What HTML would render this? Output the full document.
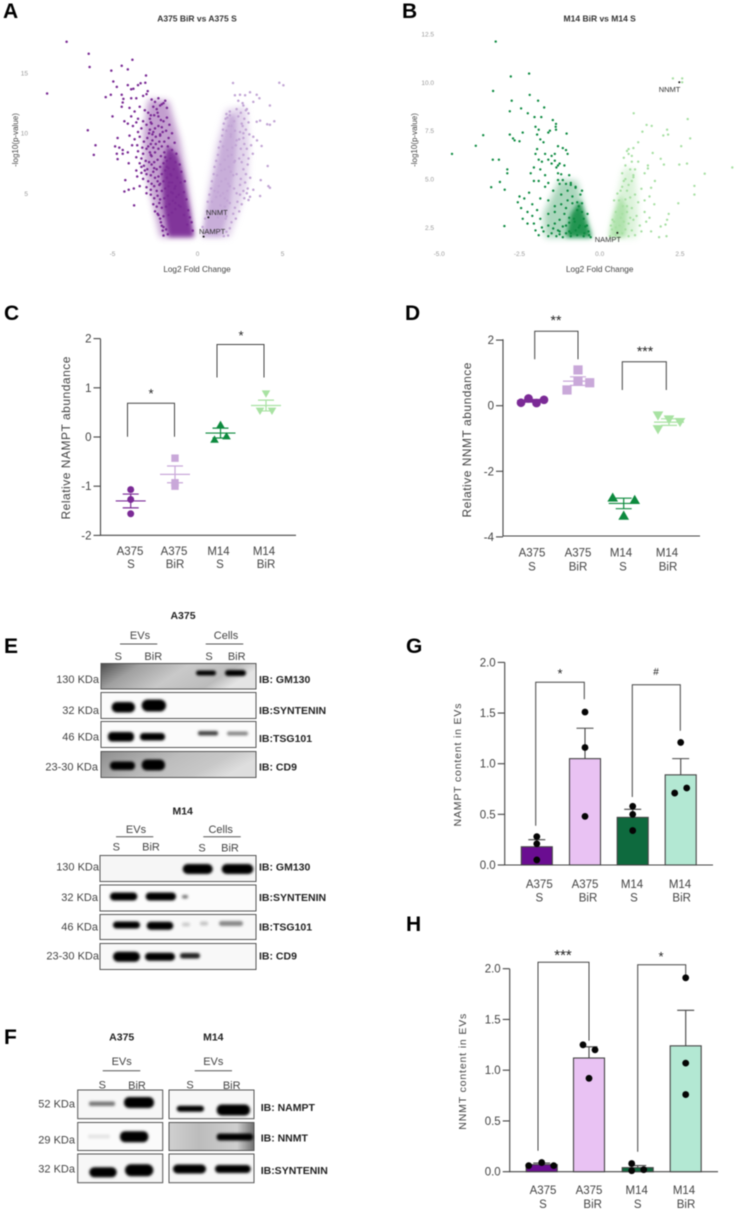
<!DOCTYPE html>
<html lang="en">
<head>
<meta charset="utf-8">
<title>Volcano plots, abundance charts and immunoblots</title>
<style>
html,body{margin:0;padding:0;background:#fff;width:736px;height:1212px;overflow:hidden}
svg{display:block;filter:blur(0.45px)}
text{font-family:"Liberation Sans",sans-serif}
</style>
</head>
<body>
<svg id="figure" xmlns="http://www.w3.org/2000/svg" width="736" height="1212" viewBox="0 0 736 1212">
<defs>
<filter id="band" x="-30%" y="-100%" width="160%" height="300%"><feGaussianBlur stdDeviation="1.3"/></filter>
<filter id="soft" x="-30%" y="-30%" width="160%" height="160%"><feGaussianBlur stdDeviation="2"/></filter>
<filter id="halo" x="-40%" y="-40%" width="180%" height="180%"><feGaussianBlur stdDeviation="3.5"/></filter>
<linearGradient id="bg-gm130" x1="0" y1="0" x2="1" y2="0.25"><stop offset="0" stop-color="#4a4a4a"/><stop offset="0.25" stop-color="#a0a0a0"/><stop offset="0.55" stop-color="#c9c9c9"/><stop offset="0.85" stop-color="#bcbcbc"/><stop offset="1" stop-color="#e4e4e4"/></linearGradient>
<linearGradient id="bg-cd9" x1="0" y1="0" x2="1" y2="0.3"><stop offset="0" stop-color="#8e8e8e"/><stop offset="0.5" stop-color="#bdbdbd"/><stop offset="0.8" stop-color="#c8c8c8"/><stop offset="1" stop-color="#dedede"/></linearGradient>
<linearGradient id="bg-nnmt" x1="0" y1="0" x2="1" y2="0"><stop offset="0" stop-color="#d0d0d0"/><stop offset="0.35" stop-color="#bcbcbc"/><stop offset="0.8" stop-color="#cfcfcf"/><stop offset="1" stop-color="#707070"/></linearGradient>
</defs>

<g id="panel-letters" font-weight="700" font-size="21" fill="#000">
<text x="3" y="18">A</text>
<text x="402" y="18">B</text>
<text x="4" y="320">C</text>
<text x="405" y="320">D</text>
<text x="4" y="653">E</text>
<text x="4" y="1044">F</text>
<text x="406" y="653">G</text>
<text x="406" y="931">H</text>
</g>

<g id="blot-e-a375">
<g fill="#444" font-size="11">
<text x="183" y="619" font-size="10.5" font-weight="700" fill="#222" text-anchor="middle">A375</text>
<text x="140" y="639" text-anchor="middle">EVs</text>
<text x="226" y="639" text-anchor="middle">Cells</text>
<text x="118.3" y="660" text-anchor="middle">S</text>
<text x="153.3" y="660" text-anchor="middle">BiR</text>
<text x="209" y="660" text-anchor="middle">S</text>
<text x="236.7" y="660" text-anchor="middle">BiR</text>
<text x="99" y="683" text-anchor="end">130 KDa</text>
<text x="99" y="714" text-anchor="end">32 KDa</text>
<text x="99" y="740.7" text-anchor="end">46 KDa</text>
<text x="98" y="770.7" text-anchor="end">23-30 KDa</text>
</g>
<path d="M120 644H157.3M205.7 644H243.3" stroke="#555" stroke-width="1"/>
<g font-size="10.5" font-weight="700" fill="#222">
<text x="259" y="683">IB: GM130</text>
<text x="259" y="714">IB:SYNTENIN</text>
<text x="259" y="742">IB:TSG101</text>
<text x="259" y="770.7">IB: CD9</text>
</g>
<rect x="101" y="663.5" width="155" height="25.5" fill="url(#bg-gm130)" stroke="#555"/>
<rect x="101" y="692.5" width="155" height="26" fill="#fbfbfb" stroke="#555"/>
<rect x="101" y="721.5" width="155" height="26" fill="#fbfbfb" stroke="#555"/>
<rect x="101" y="751.5" width="155" height="26" fill="url(#bg-cd9)" stroke="#555"/>
<g filter="url(#band)" fill="#050505">
<rect x="196" y="670.5" width="20" height="5" rx="2.5"/><rect x="225" y="670" width="21" height="6" rx="3"/>
<rect x="111.7" y="702" width="23.3" height="10.5" rx="5"/><rect x="141.7" y="699.5" width="24.3" height="12" rx="6"/>
<rect x="108" y="732" width="26" height="9.5" rx="4"/><rect x="140" y="733" width="25" height="7.5" rx="3.5"/>
<rect x="198" y="731" width="20" height="4.5" rx="2" fill="#444"/><rect x="227" y="731.5" width="21" height="4" rx="2" fill="#888"/>
<rect x="110" y="761.5" width="25" height="8.5" rx="4"/><rect x="141.7" y="759.5" width="23.3" height="11" rx="5"/>
</g>
</g>

<g id="blot-e-m14">
<g fill="#444" font-size="11">
<text x="182.7" y="814.7" font-size="10.5" font-weight="700" fill="#222" text-anchor="middle">M14</text>
<text x="136" y="833" text-anchor="middle">EVs</text>
<text x="220.7" y="833" text-anchor="middle">Cells</text>
<text x="116.3" y="850.7" text-anchor="middle">S</text>
<text x="151" y="850.7" text-anchor="middle">BiR</text>
<text x="202" y="851.7" text-anchor="middle">S</text>
<text x="230" y="851.7" text-anchor="middle">BiR</text>
<text x="99" y="870.7" text-anchor="end">130 KDa</text>
<text x="98" y="901" text-anchor="end">32 KDa</text>
<text x="98" y="930.7" text-anchor="end">46 KDa</text>
<text x="99" y="959.3" text-anchor="end">23-30 KDa</text>
</g>
<path d="M116 836.7H153.3M203.3 836.7H240.7" stroke="#555" stroke-width="1"/>
<g font-size="10.5" font-weight="700" fill="#222">
<text x="259" y="870.7">IB: GM130</text>
<text x="259" y="901">IB:SYNTENIN</text>
<text x="259" y="930.7">IB:TSG101</text>
<text x="259" y="959.3">IB: CD9</text>
</g>
<rect x="100" y="855.5" width="156" height="26" fill="#f6f6f6" stroke="#555"/>
<rect x="100" y="885" width="156" height="26" fill="#fcfcfc" stroke="#555"/>
<rect x="100" y="914.5" width="156" height="25" fill="#f8f8f8" stroke="#555"/>
<rect x="100" y="943.5" width="156" height="26" fill="#f8f8f8" stroke="#555"/>
<g filter="url(#band)" fill="#050505">
<rect x="182.7" y="864" width="30" height="10" rx="5"/><rect x="221.7" y="864" width="31.6" height="10" rx="5"/>
<rect x="110" y="892.5" width="27.3" height="8" rx="4"/><rect x="145.7" y="892.5" width="30.3" height="8" rx="4"/><rect x="182" y="895" width="6" height="3.5" rx="1.7" fill="#777"/>
<rect x="113" y="921.5" width="27" height="7" rx="3.5"/><rect x="146.7" y="921.7" width="26.6" height="8" rx="4"/>
<rect x="182" y="922.5" width="8" height="4" rx="2" fill="#ccc"/><rect x="200" y="921.5" width="8" height="4" rx="2" fill="#c4c4c4"/><rect x="219" y="921" width="24" height="5" rx="2.5" fill="#888"/>
<rect x="113" y="951.7" width="27" height="10" rx="5"/><rect x="145" y="952.7" width="30" height="8" rx="4"/><rect x="180" y="953" width="20" height="5.5" rx="2.7" fill="#222"/>
</g>
</g>

<g id="blot-f">
<g fill="#444" font-size="11">
<text x="121.7" y="1040.7" font-size="10.5" font-weight="700" fill="#222" text-anchor="middle">A375</text>
<text x="213.3" y="1040.7" font-size="10.5" font-weight="700" fill="#222" text-anchor="middle">M14</text>
<text x="121.7" y="1065" text-anchor="middle">EVs</text>
<text x="213.3" y="1065" text-anchor="middle">EVs</text>
<text x="102.3" y="1088.3" text-anchor="middle">S</text>
<text x="137" y="1089" text-anchor="middle">BiR</text>
<text x="190" y="1088.3" text-anchor="middle">S</text>
<text x="231.7" y="1089" text-anchor="middle">BiR</text>
<text x="75" y="1107.7" text-anchor="end">52 KDa</text>
<text x="75" y="1143.3" text-anchor="end">29 KDa</text>
<text x="75" y="1172.3" text-anchor="end">32 KDa</text>
</g>
<path d="M102.7 1070.7H140.3M194.7 1070.7H232" stroke="#555" stroke-width="1"/>
<g font-size="10.5" font-weight="700" fill="#222">
<text x="260.7" y="1111">IB: NAMPT</text>
<text x="260.7" y="1141.7">IB: NNMT</text>
<text x="260.7" y="1174">IB:SYNTENIN</text>
</g>
<g fill="#f7f7f7" stroke="#555">
<rect x="77.7" y="1090" width="85" height="28.7"/>
<rect x="77.7" y="1122.5" width="85" height="28" fill="#fbfbfb"/>
<rect x="77.7" y="1154" width="85" height="28.7"/>
<rect x="169" y="1090" width="85" height="28.7"/>
<rect x="169" y="1122.5" width="85" height="28" fill="url(#bg-nnmt)"/>
<rect x="169" y="1154" width="85" height="28.7"/>
</g>
<g filter="url(#band)" fill="#050505">
<rect x="89" y="1101.5" width="26" height="4.5" rx="2" fill="#777"/><rect x="124" y="1097" width="30" height="11" rx="5"/>
<rect x="176.7" y="1105.7" width="27.3" height="6" rx="3"/><rect x="216.7" y="1104.5" width="33.3" height="11" rx="5"/>
<rect x="88" y="1134.5" width="22" height="4" rx="2" fill="#e4e4e4"/><rect x="120" y="1131.2" width="28.3" height="11" rx="5"/>
<rect x="216.7" y="1133.5" width="36.3" height="7" rx="3"/>
<rect x="89.3" y="1167.3" width="27.4" height="10" rx="5"/><rect x="125" y="1164.3" width="28.3" height="12" rx="6"/>
<rect x="173" y="1164.5" width="33" height="9" rx="4.5"/><rect x="215" y="1165" width="35.7" height="8" rx="4"/>
</g>
</g>

<g id="plots"></g>
</svg>

<script>
// ---------- Panel A data (log2 fold change / -log10 p) ----------
const aXTicks = [-5, 0, 5];
const aYTicks = [5, 10, 15];
const aLeftHaloX = [-0.2,-2.2,-2.6,-3.1,-3.2,-2.9,-1.7,-1.05,-0.65,-0.35];
const aLeftHaloY = [1.35,1.35,4.0,7.0,10.0,12.8,12.7,9.5,6.5,3.5];
const aLeftCoreX = [-0.22,-1.7,-2.0,-2.1,-1.75,-1.2,-0.85,-0.45];
const aLeftCoreY = [1.4,1.4,3.8,7.0,9.0,8.2,6.5,3.6];
const aRightHaloX = [0.25,1.9,2.5,2.95,3.05,2.85,1.7,1.1,0.65,0.4];
const aRightHaloY = [1.35,1.35,3.8,6.0,9.0,12.2,12.0,9.0,5.5,3.0];
const aRightCoreX = [0.3,1.4,1.9,2.2,2.3,2.25,1.85,1.35,0.85,0.5];
const aRightCoreY = [1.4,1.4,4.0,7.0,9.5,11.5,11.5,8.8,5.5,3.2];
const aLeftX = [
-7.7,-6.4,-6.35,-8.85,-3.83,-4.46,-5.07,-4.1,-3.03,-4.95,
-4.75,-4.1,-3.5,-3.35,-3.07,-3.77,-3.9,-2.93,-3.0,-5.1,
-5.4,-4.46,-4.36,-4.4,-4.46,-3.9,-3.6,-3.2,-5.0,-6.45,
-6.0,-6.1,-4.7,-4.85,-4.6,-4.75,-4.7,-4.4,-4.1,-4.05,
-4.25,-4.3,-4.05,-3.75,-3.73,-3.4,-3.55,-3.1,-3.3,-3.0,
-2.7,-2.5,-2.3,-2.1,-1.9,-2.6,-2.4,-2.2,-2.0,-1.8,
-4.0,-3.7,-3.4,-3.1,-2.9,-2.75,-3.9,-3.5,-3.2,-4.3,
-4.1,-3.8,-3.6,-3.3,-3.0,-2.8,-2.7,-2.6,-2.85,-3.5,
-4.0,-3.7,-3.4,-3.15,-2.95,-2.75,-3.55,-3.25,-3.85,-2.65,
-4.4,-3.5,-3.2,-3.0,-2.8,-2.7,-3.6,-3.3,-3.05,-2.85,
-3.4,-3.15,-2.95,-2.7,-2.55,-3.6,-3.3,-3.0,-2.75,-2.6,
-3.2,-2.9,-2.7,-2.5,-2.35,-3.0,-2.75,-2.55,-2.4,-2.25,
-2.75,-2.55,-2.35,-2.2,-2.6,-2.4,-2.25,-2.1,-2.5,-2.3,
-2.2,-2.15,-2.0,-2.35,-2.0,-2.0,-1.75,-1.85,-2.05,-2.1,
-2.3,-2.15,-2.0,-1.8,-2.1,-1.85,-1.65,-1.5,-1.7,-1.35,
-2.2,-1.95,-1.75,-1.5,-1.25,-1.9,-1.6,-1.3,-1.05,-1.4,
-1.8,-1.55,-1.2,-0.95,-1.65,-1.3,-1.0,-0.75,-1.45,-1.1,
-0.8,-1.3,-1.0,-0.65,-0.55,-0.8,-0.45,-0.6,-0.35,-0.28,
-2.8,-2.55,-2.35,-2.75,-2.5,-2.3,-2.65,-2.45,-2.2,-2.05,
-2.9,-2.6,-2.45,-2.25,-2.75,-2.5,-2.3,-2.1,-2.55,-2.35,
-2.15,-1.95,-2.4,-2.2,-2.0,-1.8,-2.3,-2.1,-1.9,-1.7,
-2.2,-2.0,-1.8,-1.6,-2.1,-1.9,-1.7,-1.5,-1.95,-1.75,
-1.55,-1.35,-1.85,-1.65,-1.45,-1.25,-1.7,-1.5,-1.3,-1.1];
const aLeftY = [
17.6,16.6,15.5,13.3,16.1,15.6,15.2,15.3,14.8,14.3,
13.85,14.0,14.0,14.15,14.2,13.7,13.65,13.5,13.25,13.2,
13.0,13.2,12.85,12.55,12.2,12.9,12.9,13.1,11.4,10.25,
9.0,8.2,9.6,8.9,8.8,8.3,7.85,8.3,8.4,7.5,
6.1,5.15,5.3,5.4,4.0,5.6,6.4,6.9,7.2,5.0,
12.8,12.6,12.9,12.4,12.7,12.2,12.0,12.3,12.5,12.1,
12.1,11.8,12.2,11.9,11.7,11.5,11.4,11.2,11.0,11.0,
10.8,10.6,10.9,10.4,10.7,10.3,10.8,10.1,10.0,10.1,
9.8,9.5,9.7,9.3,9.6,9.1,9.0,8.8,9.0,9.4,
8.6,8.5,8.3,8.7,8.4,8.1,8.0,7.9,7.7,7.6,
7.5,7.3,7.0,7.4,7.1,6.9,6.7,6.6,6.5,6.8,
6.2,6.0,5.8,6.3,6.0,5.5,5.3,5.6,5.2,5.7,
4.9,4.6,4.8,4.5,4.1,3.9,4.2,3.8,3.5,3.2,
2.9,2.6,3.1,3.3,2.2,1.5,1.6,2.0,1.9,2.3,
11.4,11.1,11.0,11.3,10.5,10.2,10.7,10.0,9.6,9.2,
9.8,9.3,8.9,8.6,8.3,8.0,7.9,7.6,7.4,7.0,
7.2,6.5,6.3,6.8,5.9,5.6,5.9,6.0,5.0,4.9,
5.1,4.2,3.9,4.5,3.6,3.2,3.0,2.4,2.6,1.9,
11.2,11.5,11.7,10.9,10.4,10.6,9.9,9.7,9.9,10.1,
8.9,8.8,9.1,9.3,8.2,8.4,8.7,8.9,7.6,7.8,
8.1,8.4,7.0,7.2,7.5,7.7,6.4,6.6,6.9,7.1,
5.8,6.0,6.3,6.6,5.2,5.4,5.6,5.9,4.6,4.8,
5.1,5.4,3.9,4.1,4.4,4.7,3.2,3.4,3.7,4.0];
const aRightX = [
2.09,4.81,5.05,3.09,2.5,2.2,2.8,3.48,3.64,3.28,
4.26,2.7,3.0,4.26,3.68,4.52,4.1,3.48,3.28,3.77,
3.5,4.13,3.72,4.17,4.26,3.68,3.09,3.0,3.28,2.9,
2.4,2.65,2.9,2.55,2.3,1.9,2.75,3.0,2.6,1.75,
2.85,3.05,2.7,2.5,3.15,2.9,2.75,3.25,3.0,2.7,
2.95,2.7,2.6,2.85,3.1,2.8,2.55,2.95,2.7,2.5,
2.75,2.5,2.3,2.6,2.35,2.2,2.45,2.1,2.25,2.0,
1.9,1.7,1.8,1.65,1.55,1.45,1.6,1.75,1.35,1.2,
0.3,0.45,0.55,0.6,0.7,0.8,0.85,0.95,1.0,1.1,
1.2,1.25,1.35,1.45,1.5,1.55,1.65,1.7,1.85,1.95,
2.05,2.2,1.8,1.6,2.1,1.9,2.3,2.0,1.4,1.75,
1.9,2.15,2.4,2.65,2.85,1.7,1.95,2.2,2.45,2.7,
1.5,1.75,2.0,2.25,2.55,1.35,1.6,1.85,2.15,2.45,
1.15,1.4,1.65,1.95,2.3,1.0,1.25,1.5,1.8,2.15,
0.85,1.1,1.35,1.6,1.9,0.7,0.95,1.2,1.45,1.7];
const aRightY = [
14.17,14.2,13.98,13.4,13.2,13.15,13.15,13.2,12.9,12.6,
12.3,12.3,11.65,10.7,11.05,11.0,10.75,10.96,9.7,8.94,
9.4,7.27,6.1,5.6,5.47,4.78,4.72,4.45,5.3,5.0,
12.7,12.5,12.0,11.7,12.0,11.8,11.2,10.9,10.8,11.3,
10.3,9.9,9.6,10.1,9.0,8.7,9.1,8.3,7.9,8.2,
7.4,7.0,7.6,6.6,6.3,5.9,6.2,5.4,5.2,5.7,
4.6,4.9,5.0,4.1,4.3,3.8,3.5,3.3,2.9,2.6,
2.1,1.8,1.5,2.9,1.45,3.5,3.9,4.4,4.8,5.1,
2.2,2.9,3.5,4.3,4.9,5.4,6.0,6.6,7.2,7.7,
8.2,8.8,9.3,9.8,10.3,10.8,11.2,11.6,10.6,9.9,
8.8,7.7,8.1,7.0,6.5,5.6,9.4,10.6,6.0,5.2,
11.5,11.0,11.4,10.6,11.9,10.2,9.7,10.2,9.5,10.0,
8.9,8.6,8.2,9.0,8.7,7.4,7.8,7.2,7.6,7.9,
6.5,6.9,6.2,6.8,6.6,5.2,5.6,5.0,5.8,5.4,
4.3,4.7,4.0,4.6,4.2,3.2,3.6,3.0,3.4,3.1];
const aGeneNames = ['NNMT','NAMPT'];
const aGeneX = [0.64,0.36];
const aGeneY = [3.0,1.4];

// ---------- Panel B data ----------
const bXTicks = ['-5.0','-2.5','0.0','2.5'];
const bYTicks = ['2.5','5.0','7.5','10.0','12.5'];
const bLeftHaloX = [-0.22,-1.7,-1.75,-1.25,-0.7,-0.4];
const bLeftHaloY = [1.98,1.98,3.2,5.0,4.9,2.9];
const bLeftCoreX = [-0.26,-1.05,-0.9,-0.6,-0.4];
const bLeftCoreY = [2.0,2.0,3.2,3.9,2.8];
const bRightHaloX = [0.28,1.15,1.2,1.1,0.75,0.42];
const bRightHaloY = [1.98,1.98,3.2,5.5,5.6,3.2];
const bRightCoreX = [0.3,0.8,0.85,0.65,0.42];
const bRightCoreY = [2.0,2.0,3.5,4.2,3.1];
const bLeftX = [
-3.24,-2.2,-2.77,-3.32,-2.18,-2.74,-1.92,-2.45,-2.8,-1.73,
-2.24,-2.03,-1.82,-1.46,-1.36,-1.37,-1.36,-1.03,-2.0,-1.9,
-3.63,-3.86,-4.6,-3.33,-3.14,-2.88,-2.88,-3.38,-3.11,-2.96,
-2.97,-2.8,-2.7,-2.65,-2.5,-2.4,-1.95,-1.85,-1.55,-1.6,
-1.95,-2.0,-1.75,-1.7,-1.5,-1.4,-1.3,-1.15,-1.05,-1.0,
-1.9,-1.8,-1.6,-1.5,-1.4,-1.3,-1.25,-1.35,-1.1,-0.95,
-2.15,-2.05,-1.85,-1.7,-1.3,-1.2,-1.15,-1.3,-1.25,-0.9,
-2.5,-2.35,-2.2,-2.05,-1.9,-1.7,-1.6,-1.45,-1.05,-0.75,
-2.55,-2.45,-2.1,-1.95,-1.85,-1.6,-1.4,-1.2,-1.0,-0.85,
-2.25,-2.1,-1.85,-1.6,-1.4,-1.25,-1.05,-0.95,-0.7,-0.55,
-2.4,-2.25,-2.05,-2.0,-1.8,-1.6,-1.45,-1.3,-1.15,-0.95,
-1.9,-1.75,-1.6,-1.5,-1.35,-1.25,-1.15,-1.05,-0.9,-0.78,
-0.7,-0.62,-0.55,-0.48,-0.4,-0.33,-0.28,-0.65,-0.5,-0.38,
-0.9,-0.75,-0.6,-1.0,-0.85,-0.7,-0.55,-1.1,-0.95,-0.8,
-1.25,-1.05,-0.65,-0.45,-0.35,-1.4,-1.2,-0.9,-0.75,-0.5];
const bLeftY = [
12.1,10.45,10.3,9.55,9.35,9.05,9.05,8.65,8.5,8.7,
8.4,8.2,8.2,8.05,7.85,7.7,7.55,7.35,7.7,7.55,
7.27,6.72,6.3,6.0,6.0,5.5,5.3,4.58,4.85,4.45,
2.57,7.3,7.1,7.0,6.95,7.4,7.3,7.05,7.5,7.4,
6.55,6.3,6.9,6.3,6.2,6.3,6.7,6.6,6.5,6.3,
6.0,5.9,6.0,5.8,5.95,5.7,5.8,5.6,5.7,5.2,
5.3,5.6,5.5,5.2,5.3,5.25,4.95,4.95,4.75,4.8,
4.1,4.0,4.3,4.9,4.9,4.6,4.8,4.4,4.75,4.6,
3.8,3.5,3.7,3.4,4.0,3.9,3.6,4.2,4.4,4.1,
3.3,3.1,2.95,3.2,3.3,2.9,3.5,3.0,3.8,4.4,
2.95,2.7,2.7,2.35,2.5,2.6,2.45,2.35,2.55,2.3,
2.1,2.3,2.05,2.2,2.05,2.15,2.0,2.6,2.05,2.8,
2.1,2.6,3.3,2.2,2.6,2.1,2.0,3.6,2.95,3.2,
4.7,4.55,4.2,3.9,3.75,3.4,3.75,3.2,2.75,2.95,
2.3,2.2,2.5,2.55,2.3,2.7,3.7,2.2,2.35,2.05];
const bRightX = [
2.28,2.57,2.57,1.06,2.74,1.46,1.62,1.33,2.1,2.13,
1.98,2.82,2.54,4.13,3.27,2.95,2.95,2.72,2.48,1.9,
2.0,1.65,1.5,1.5,1.72,1.6,1.4,1.2,2.45,2.15,
2.1,2.05,1.9,1.55,1.6,1.7,1.45,1.4,1.55,1.85,
2.08,1.25,1.3,1.05,0.9,1.0,0.85,1.0,1.1,0.75,
0.8,0.95,1.05,1.0,0.9,0.7,0.85,1.1,0.8,0.95,
0.55,0.65,0.72,0.85,1.0,1.15,1.2,1.05,0.9,0.45,
0.32,0.38,0.45,0.5,0.62,0.7,0.8,0.9,1.0,1.1,
0.4,0.5,0.6,0.7,0.8,0.9,0.55,0.65,0.75,0.85,
0.95,1.05,0.5,0.6,0.7,0.75,1.2,1.3,1.4,0.35];
const bRightY = [
10.2,10.2,10.0,8.4,8.1,7.8,7.75,7.45,7.55,7.3,
7.25,7.1,6.7,5.6,5.28,4.65,4.2,5.8,5.75,6.05,
5.75,6.35,5.7,5.55,4.9,4.55,5.3,6.9,3.75,3.2,
2.9,2.65,2.55,3.0,2.3,3.7,2.8,3.3,4.1,2.0,
2.05,2.6,2.3,6.6,6.55,6.2,6.45,5.9,5.5,6.1,
5.7,5.5,5.2,4.9,4.7,5.3,4.4,4.2,3.95,4.05,
4.25,4.4,3.6,3.3,3.5,3.1,3.8,2.9,2.7,3.9,
2.05,2.4,2.8,2.1,2.6,2.2,2.4,2.05,2.35,2.1,
2.9,3.3,3.9,4.6,5.0,6.3,2.3,3.0,2.8,3.6,
3.0,5.1,2.5,2.0,3.2,4.9,5.9,4.5,3.9,2.6];
const bGeneNames = ['NNMT','NAMPT'];
const bGeneX = [2.48,0.55];
const bGeneY = [10.0,2.22];

// ---------- Panel C data ----------
const categoriesTop = ['A375','A375','M14','M14'];
const categoriesBottom = ['S','BiR','S','BiR'];
const cYTicks = [-2,-1,0,1,2];
const cMeans = [-1.3,-0.76,0.08,0.64];
const cErrors = [0.14,0.17,0.1,0.11];
const cReplicates = [[-1.07,-1.27,-1.56],[-0.43,-0.93,-1.0],[0.25,0.02,-0.05],[0.88,0.53,0.53]];

// ---------- Panel D data ----------
const dYTicks = [-4,-2,0,2];
const dMeans = [0.15,0.75,-2.98,-0.5];
const dErrors = [0.04,0.13,0.16,0.1];
const dReplicates = [[0.09,0.22,0.08,0.18],[0.48,1.09,0.75,0.7],[-2.8,-3.35,-2.87],[-0.3,-0.42,-0.5,-0.72]];

// ---------- Panel G data ----------
const gYTicks = ['0.0','0.5','1.0','1.5','2.0'];
const gMeans = [0.18,1.05,0.47,0.89];
const gErrors = [0.07,0.3,0.08,0.16];
const gReplicates = [[0.28,0.21,0.05],[1.51,1.16,0.48],[0.58,0.5,0.34],[1.21,0.76,0.71]];

// ---------- Panel H data ----------
const hYTicks = ['0.0','0.5','1.0','1.5','2.0'];
const hMeans = [0.07,1.12,0.04,1.24];
const hErrors = [0.015,0.11,0.02,0.35];
const hReplicates = [[0.06,0.09,0.06],[1.25,1.2,0.92],[0.08,0.01,0.02],[1.91,1.07,0.76]];

// ---------- scales ----------
const xA = v => 197.5 + 17.0 * v;
const yA = v => 253.5 - 12.03 * v;
const xB = v => 599.7 + 32.1 * v;
const yB = v => 275.9 - 19.36 * v;
const yC = v => 437 - 49.2 * v;
const yD = v => 405.7 - 32.8 * v;
const yG = v => 865 - 101.3 * v;
const yH = v => 1171.7 - 101.5 * v;

const NS = 'http://www.w3.org/2000/svg';
const plots = document.getElementById('plots');
function mk(tag, attrs, parent) {
  const e = document.createElementNS(NS, tag);
  for (const k in attrs) e.setAttribute(k, attrs[k]);
  parent.appendChild(e);
  return e;
}
function txt(s, x, y, size, fill, anchor, parent, weight, rot, len) {
  const a = {x: x, y: y, 'font-size': size, fill: fill, 'text-anchor': anchor};
  if (weight) a['font-weight'] = weight;
  if (rot) a.transform = 'rotate(' + rot + ' ' + x + ' ' + y + ')';
  if (len) { a.textLength = len; a.lengthAdjust = 'spacing'; }
  const e = mk('text', a, parent);
  e.textContent = s;
  return e;
}

// ---------- volcano ----------
function corePath(xs, ys, sx, sy) {
  return xs.map((v, i) => (i ? 'L' : 'M') + sx(v).toFixed(1) + ' ' + sy(ys[i]).toFixed(1)).join('') + 'Z';
}
function drawVolcano(name, g, sx, sy, series, genes, r) {
  series.forEach(function (s) {
    const halo = mk('path', {d: corePath(s.hx, s.hy, sx, sy), fill: s.color, opacity: s.haloOpacity, filter: 'url(#halo)'}, g);
    
    
    const core = mk('path', {d: corePath(s.cx, s.cy, sx, sy), fill: s.color, opacity: s.coreOpacity, filter: 'url(#soft)'}, g);
    
    
    const pts = mk('g', {fill: s.color}, g);
    
    
    s.xs.forEach(function (v, i) {
      const c = mk('circle', {cx: sx(v).toFixed(1), cy: sy(s.ys[i]).toFixed(1), r: r}, pts);
      
      
    });
  });
  genes.names.forEach(function (n, i) {
    const c = mk('circle', {cx: sx(genes.xs[i]), cy: sy(genes.ys[i]), r: 1, fill: '#111'}, g);
    
    
  });
}
const gA = mk('g', {}, plots);


const titleA = txt('A375 BiR vs A375 S', 197, 21.5, 8.5, '#333', 'middle', gA, 700);


drawVolcano('a375', gA, xA, yA, [
  {name: 'down', color: '#7a2b95', haloOpacity: 0.45, coreOpacity: 0.9, hx: aLeftHaloX, hy: aLeftHaloY, cx: aLeftCoreX, cy: aLeftCoreY, xs: aLeftX, ys: aLeftY},
  {name: 'up', color: '#c2a5d5', haloOpacity: 0.5, coreOpacity: 0.8, hx: aRightHaloX, hy: aRightHaloY, cx: aRightCoreX, cy: aRightCoreY, xs: aRightX, ys: aRightY}
], {names: aGeneNames, xs: aGeneX, ys: aGeneY}, 1.25);
aXTicks.forEach(function (v) {
  const t = txt(String(v), xA(v), 256, 6.5, '#999', 'middle', gA);
  
  
});
aYTicks.forEach(function (v) {
  const t = txt(String(v), 28, yA(v) + 2.5, 6.5, '#999', 'end', gA);
  
  
});
const xtA = txt('Log2 Fold Change', 197, 272, 8.2, '#444', 'middle', gA);


const ytA = txt('-log10(p-value)', 18, 140, 8, '#444', 'middle', gA, null, -90);


const gl1 = txt(aGeneNames[0], 206, 215, 7.5, '#333', 'start', gA);


const gl2 = txt(aGeneNames[1], 199, 234, 7.5, '#333', 'start', gA);



const gB = mk('g', {}, plots);


const titleB = txt('M14 BiR vs M14 S', 599.7, 21.5, 8.5, '#333', 'middle', gB, 700);


drawVolcano('m14', gB, xB, yB, [
  {name: 'down', color: '#0c8a40', haloOpacity: 0.35, coreOpacity: 0.85, hx: bLeftHaloX, hy: bLeftHaloY, cx: bLeftCoreX, cy: bLeftCoreY, xs: bLeftX, ys: bLeftY},
  {name: 'up', color: '#a6dfa2', haloOpacity: 0.4, coreOpacity: 0.8, hx: bRightHaloX, hy: bRightHaloY, cx: bRightCoreX, cy: bRightCoreY, xs: bRightX, ys: bRightY}
], {names: bGeneNames, xs: bGeneX, ys: bGeneY}, 1.2);
bXTicks.forEach(function (v) {
  const t = txt(v, xB(parseFloat(v)), 256, 6.5, '#999', 'middle', gB);
  
  
});
bYTicks.forEach(function (v) {
  const t = txt(v, 434, yB(parseFloat(v)) + 2.5, 6.5, '#999', 'end', gB);
  
  
});
const xtB = txt('Log2 Fold Change', 599.7, 272, 8.2, '#444', 'middle', gB);


const ytB = txt('-log10(p-value)', 417, 140, 8, '#444', 'middle', gB, null, -90);


const gl3 = txt(bGeneNames[0], 658.7, 92, 7.5, '#333', 'start', gB);


const gl4 = txt(bGeneNames[1], 594.7, 242, 7.5, '#333', 'start', gB);



// ---------- shared axes ----------
function drawAxes(g, cfg) {
  const axis = mk('path', {d: 'M' + cfg.axisX + ' ' + cfg.top + 'V' + cfg.bottom + 'H' + cfg.right, fill: 'none', stroke: '#444', 'stroke-width': 1.1}, g);
  
  
  cfg.ticks.forEach(function (v) {
    const y = cfg.sy(parseFloat(v));
    const tk = mk('line', {x1: cfg.axisX - 7, x2: cfg.axisX, y1: y, y2: y, stroke: '#444', 'stroke-width': 1.1}, g);
    
    
    const lb = txt(String(v), cfg.axisX - 9, y + 4, 11.5, '#444', 'end', g);
    
    
  });
  const yt = txt(cfg.title, cfg.titleX, cfg.titleY, cfg.titleSize, '#444', 'middle', g, null, -90, cfg.titleLen);
  
  
  categoriesTop.forEach(function (c, i) {
    const a = txt(c, cfg.catTopX[i], cfg.catY1, 11.5, '#444', 'middle', g);
    
    
    const b = txt(categoriesBottom[i], cfg.catBotX[i], cfg.catY2, 11.5, '#444', 'middle', g);
    
    
  });
  cfg.brackets.forEach(function (br) {
    const p = mk('path', {d: 'M' + br.x1 + ' ' + br.y1 + 'V' + br.top + 'H' + br.x2 + 'V' + br.y2, fill: 'none', stroke: '#444', 'stroke-width': 1}, g);
    
    
    const s = txt(br.label, br.lx, br.ly, br.size || 13, '#222', 'middle', g, null, null, null);
    
    
  });
}

// ---------- scatter panels ----------
const groupColors = ['#7b2a96', '#c9a8d9', '#0d8a3e', '#a8e2a2'];
const groupShapes = ['circle', 'square', 'triangle', 'inverted'];
function marker(g, shape, x, y, s, color) {
  let e;
  if (shape === 'circle') e = mk('circle', {cx: x, cy: y, r: s * 0.47, fill: color}, g);
  else if (shape === 'square') e = mk('rect', {x: x - s / 2, y: y - s / 2, width: s, height: s, fill: color}, g);
  else {
    const d = shape === 'triangle' ? -1 : 1;
    e = mk('path', {d: 'M' + (x - s * 0.58) + ' ' + (y - d * s * 0.45) + 'H' + (x + s * 0.58) + 'L' + x + ' ' + (y + d * s * 0.55) + 'Z', fill: color}, g);
  }
  
  
}
function drawScatter(name, cfg, means, errs, reps) {
  const g = mk('g', {}, plots);
  
  
  drawAxes(g, cfg);
  means.forEach(function (m, i) {
    const cx = cfg.centers[i], c = groupColors[i];
    reps[i].forEach(function (v, j) {
      marker(g, groupShapes[i], cx + cfg.jitter[i][j], cfg.sy(v), cfg.msize, c);
    });
    const err = mk('path', {d: 'M' + (cx - 15) + ' ' + cfg.sy(m) + 'H' + (cx + 15) +
      'M' + cx + ' ' + cfg.sy(m + errs[i]) + 'V' + cfg.sy(m - errs[i]) +
      'M' + (cx - 8) + ' ' + cfg.sy(m + errs[i]) + 'H' + (cx + 8) +
      'M' + (cx - 8) + ' ' + cfg.sy(m - errs[i]) + 'H' + (cx + 8),
      fill: 'none', stroke: c, 'stroke-width': 1.2}, g);
    
    
  });
}
drawScatter('nampt-abundance-chart', {
  sy: yC, axisX: 100.5, top: 338.7, bottom: 535.3, right: 296, ticks: cYTicks,
  title: 'Relative NAMPT abundance', titleX: 70, titleY: 438, titleSize: 12, titleLen: 163,
  catTopX: [130, 174, 218.5, 264], catBotX: [131, 175, 220, 266], catY1: 555, catY2: 568,
  centers: [130.7, 175, 220.5, 266], msize: 7.4,
  jitter: [[0,0,0],[0,0,0],[0,6,-6],[0,-6,6]],
  brackets: [
    {x1: 127.5, x2: 174.5, top: 403.3, y1: 436.7, y2: 436.7, label: '*', lx: 151, ly: 398},
    {x1: 217, x2: 264, top: 344.5, y1: 377.5, y2: 377.5, label: '*', lx: 241, ly: 340}
  ]
}, cMeans, cErrors, cReplicates);
drawScatter('nnmt-abundance-chart', {
  sy: yD, axisX: 503, top: 339.3, bottom: 536, right: 700, ticks: dYTicks,
  title: 'Relative NNMT abundance', titleX: 471, titleY: 440, titleSize: 12, titleLen: 155,
  catTopX: [532, 578, 621, 667], catBotX: [532, 578, 623, 668], catY1: 556.7, catY2: 570.7,
  centers: [532, 578, 623.7, 669], msize: 9.2,
  jitter: [[-11,-3.5,4.5,12],[-11,0,0,11.7],[-11,0,11],[-11,0,11,-11]],
  brackets: [
    {x1: 534.7, x2: 578, top: 331.3, y1: 359.3, y2: 359.3, label: '**', lx: 556, ly: 325, size: 14},
    {x1: 622.3, x2: 666.3, top: 361.7, y1: 390, y2: 390, label: '***', lx: 645, ly: 356, size: 14}
  ]
}, dMeans, dErrors, dReplicates);

// ---------- bar panels ----------
const barColors = ['#6a0d91', '#e9c2f3', '#0e6a3e', '#b3e8d3'];
function drawBars(name, cfg, means, errs, reps) {
  const g = mk('g', {}, plots);
  
  
  drawAxes(g, cfg);
  means.forEach(function (m, i) {
    const cx = cfg.centers[i];
    const err = mk('path', {d: 'M' + cx + ' ' + cfg.sy(m) + 'V' + cfg.sy(m + errs[i]) + 'M' + (cx - 8.5) + ' ' + cfg.sy(m + errs[i]) + 'H' + (cx + 8.5), fill: 'none', stroke: '#444', 'stroke-width': 1.1}, g);
    
    
    const bar = mk('rect', {x: cx - 15.5, y: cfg.sy(m), width: 31, height: cfg.sy(0) - cfg.sy(m), fill: barColors[i], stroke: '#444', 'stroke-width': 1.1}, g);
    
    
    reps[i].forEach(function (v, j) {
      const d = mk('circle', {cx: cx + cfg.jitter[i][j], cy: cfg.sy(v), r: 3.4, fill: '#050505'}, g);
      
      
    });
  });
}
drawBars('nampt-ev-content-chart', {
  sy: yG, axisX: 504.7, top: 662.3, bottom: 865, right: 713, ticks: gYTicks,
  title: 'NAMPT content in EVs', titleX: 461, titleY: 765, titleSize: 10.5, titleLen: 123,
  catTopX: [539.3, 585, 632, 680], catBotX: [539.3, 588, 634, 681.7], catY1: 888, catY2: 901.7,
  centers: [536.8, 585, 632.7, 680.7],
  jitter: [[0,0,0],[0,0,0],[0,0,0],[0,6,-6]],
  brackets: [
    {x1: 535.7, x2: 584.3, top: 682.3, y1: 825.7, y2: 699.3, label: '*', lx: 560, ly: 678},
    {x1: 632.3, x2: 680.3, top: 684.7, y1: 797, y2: 730.7, label: '#', lx: 656, ly: 675, size: 10}
  ]
}, gMeans, gErrors, gReplicates);
drawBars('nnmt-ev-content-chart', {
  sy: yH, axisX: 509.7, top: 968.7, bottom: 1171.7, right: 718, ticks: hYTicks,
  title: 'NNMT content in EVs', titleX: 466, titleY: 1071.7, titleSize: 10.5, titleLen: 116,
  catTopX: [543, 589, 636.7, 684], catBotX: [543, 592.7, 637.7, 686], catY1: 1194, catY2: 1208,
  centers: [541.7, 589, 637.7, 685.7],
  jitter: [[-13,0,12],[-6,6,0],[-6,-6,6],[0,0,0]],
  brackets: [
    {x1: 538, x2: 589, top: 962.3, y1: 1150.7, y2: 1040.7, label: '***', lx: 563, ly: 960, size: 15},
    {x1: 637.7, x2: 685.7, top: 964.7, y1: 1151.7, y2: 975, label: '*', lx: 661, ly: 961}
  ]
}, hMeans, hErrors, hReplicates);
</script>
</body>
</html>
